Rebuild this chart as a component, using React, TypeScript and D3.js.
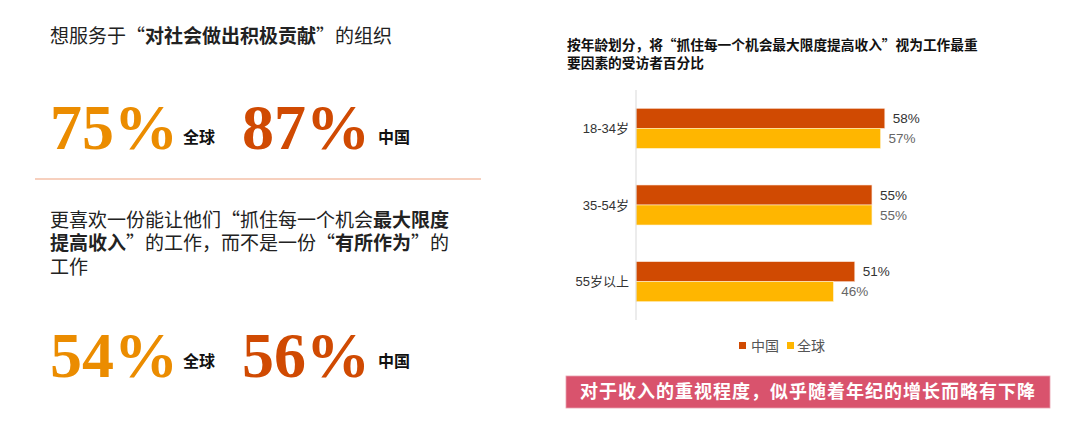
import React, { useEffect } from 'react';
import * as d3 from 'd3';

const categories = ['18-34岁', '35-54岁', '55岁以上'];
const chinaValues = [58, 55, 51];
const globalValues = [57, 55, 46];
const seriesNames = ['中国', '全球'];
const headlineGlobal = [75, 54];
const headlineChina = [87, 56];

const W = 1080;
const H = 421;
const CHINA = '#D04A02';
const GLOBAL = '#FFB600';
const GLOBAL_BIG = '#EB8C00';
const CJK = '"Noto Sans CJK SC", "Liberation Sans", sans-serif';
const NUM = '"Liberation Sans", "Noto Sans CJK SC", sans-serif';
const SERIF = '"Liberation Serif", "DejaVu Serif", serif';

export default function App() {
  useEffect(() => {
    document.body.style.margin = '0';
  }, []);

  const x = d3.scaleLinear().domain([0, 100]).range([636, 1065]);
  const y = d3.scaleBand<string>().domain(categories).range([90, 320]);
  const barH = 20;

  const bigRow = (yBase: number, g: number, c: number, lblBase: number) => (
    <g>
      <text x={50} y={yBase} fontFamily={SERIF} fontWeight="bold" fontSize={64} fill={GLOBAL_BIG}>{`${g}%`}</text>
      <text x={183} y={lblBase} fontFamily={CJK} fontWeight="bold" fontSize={16} fill="#111">全球</text>
      <text x={242} y={yBase} fontFamily={SERIF} fontWeight="bold" fontSize={64} fill={CHINA}>{`${c}%`}</text>
      <text x={378} y={lblBase} fontFamily={CJK} fontWeight="bold" fontSize={16} fill="#111">中国</text>
    </g>
  );

  return (
    <svg width={W} height={H} style={{ display: 'block', background: '#fff' }}>
      {/* Left panel */}
      <text x={50} y={43} fontFamily={CJK} fontSize={19} fill="#222">
        想服务于“<tspan fontWeight="bold">对社会做出积极贡献</tspan>”的组织
      </text>
      {bigRow(149, headlineGlobal[0], headlineChina[0], 143)}
      <line x1={35} x2={481} y1={179} y2={179} stroke="#F0A27E" strokeWidth={1.2} />
      <text x={50} y={227} fontFamily={CJK} fontSize={19} fill="#222">
        更喜欢一份能让他们“抓住每一个机会<tspan fontWeight="bold">最大限度</tspan>
      </text>
      <text x={50} y={250} fontFamily={CJK} fontSize={19} fill="#222">
        <tspan fontWeight="bold">提高收入</tspan>”的工作，而不是一份“<tspan fontWeight="bold">有所作为</tspan>”的
      </text>
      <text x={50} y={274} fontFamily={CJK} fontSize={19} fill="#222">工作</text>
      {bigRow(377, headlineGlobal[1], headlineChina[1], 367)}

      {/* Right panel */}
      <text x={567} y={50} fontFamily={CJK} fontWeight="bold" fontSize={13.7} fill="#111">
        按年龄划分，将“抓住每一个机会最大限度提高收入”视为工作最重
      </text>
      <text x={567} y={68} fontFamily={CJK} fontWeight="bold" fontSize={13.7} fill="#111">
        要因素的受访者百分比
      </text>

      {categories.map((cat, i) => {
        const b = y(cat)!;
        const mid = b + y.bandwidth() / 2;
        return (
          <g key={cat}>
            <rect x={x(0)} y={mid - barH} width={x(chinaValues[i]) - x(0)} height={barH} fill={CHINA} stroke="#fbe3d6" strokeWidth={0.6} />
            <rect x={x(0)} y={mid} width={x(globalValues[i]) - x(0)} height={barH} fill={GLOBAL} stroke="#fff1cc" strokeWidth={0.6} />
            <text x={x(chinaValues[i]) + 8} y={mid - barH / 2} dy="0.35em" fontFamily={NUM} fontSize={13.5} fill="#333">{`${chinaValues[i]}%`}</text>
            <text x={x(globalValues[i]) + 8} y={mid + barH / 2} dy="0.35em" fontFamily={NUM} fontSize={13.5} fill="#666">{`${globalValues[i]}%`}</text>
            <text x={629} y={mid} dy="0.35em" textAnchor="end" fontFamily={NUM} fontSize={13} fill="#333">{cat}</text>
          </g>
        );
      })}
      <line x1={x(0)} x2={x(0)} y1={90} y2={320} stroke="#d9d9d9" strokeWidth={1} />

      {/* Legend */}
      <g fontFamily={CJK} fontSize={14} fill="#555">
        <rect x={739} y={342} width={7} height={7} fill={CHINA} />
        <text x={751} y={346} dy="0.35em">{seriesNames[0]}</text>
        <rect x={787} y={342} width={7} height={7} fill={GLOBAL} />
        <text x={797} y={346} dy="0.35em">{seriesNames[1]}</text>
      </g>

      {/* Banner */}
      <rect x={566} y={376} width={484} height={32} fill="#D9536D" stroke="#e8a0ae" strokeWidth={0.8} />
      <text x={808} y={392} dy="0.36em" textAnchor="middle" fontFamily={CJK} fontWeight="bold" fontSize={18} letterSpacing={1} fill="#fff">
        对于收入的重视程度，似乎随着年纪的增长而略有下降
      </text>
    </svg>
  );
}
